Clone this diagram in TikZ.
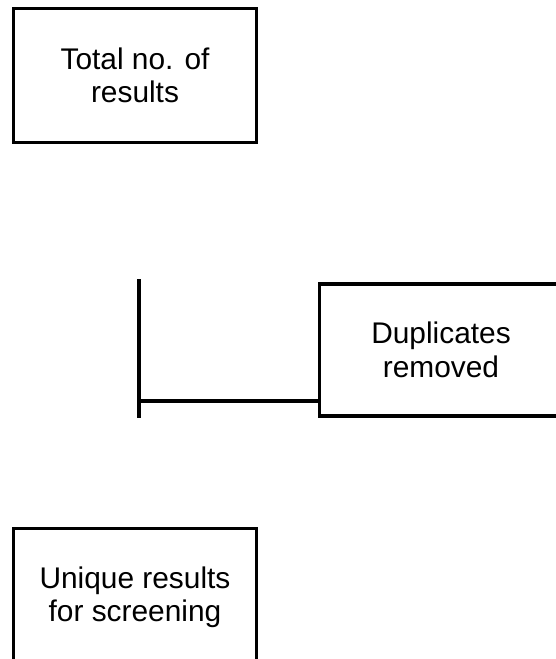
\documentclass[tikz,border=0pt]{standalone}
\usepackage{fontspec}
\setmainfont{Liberation Sans}
\tikzset{
    stage/.style={draw, line width=2.2pt, minimum width=4.86cm, align=center,
        font=\fontsize{17pt}{19pt}\selectfont},
    link/.style={line width=2.2pt}
}
\begin{document}
\begin{tikzpicture}[x=0.02cm,y=-0.02cm]
    % Frame of the picture
    \useasboundingbox (0,0) rectangle (555,659);
    % Total results at the top
    \node[stage, minimum height=2.68cm] (total) at (135,75.5) {Total no. of\\results};
    % Duplicates box on the right
    \node[stage, minimum height=2.64cm] (dup) at (441,350) {Duplicates\\removed};
    % Unique results at the bottom
    \node[stage, minimum height=2.74cm] (unique) at (135,597) {Unique results\\for screening};
    % Vertical line with branch to the right
    \coordinate (vtop) at (139,279);
    \coordinate (vbot) at (139,418);
    \coordinate (branch) at (139,401);
    \draw[link] (vtop) -- (vbot);
    \draw[link] (branch) -- (branch -| dup.west);
\end{tikzpicture}
\end{document}
